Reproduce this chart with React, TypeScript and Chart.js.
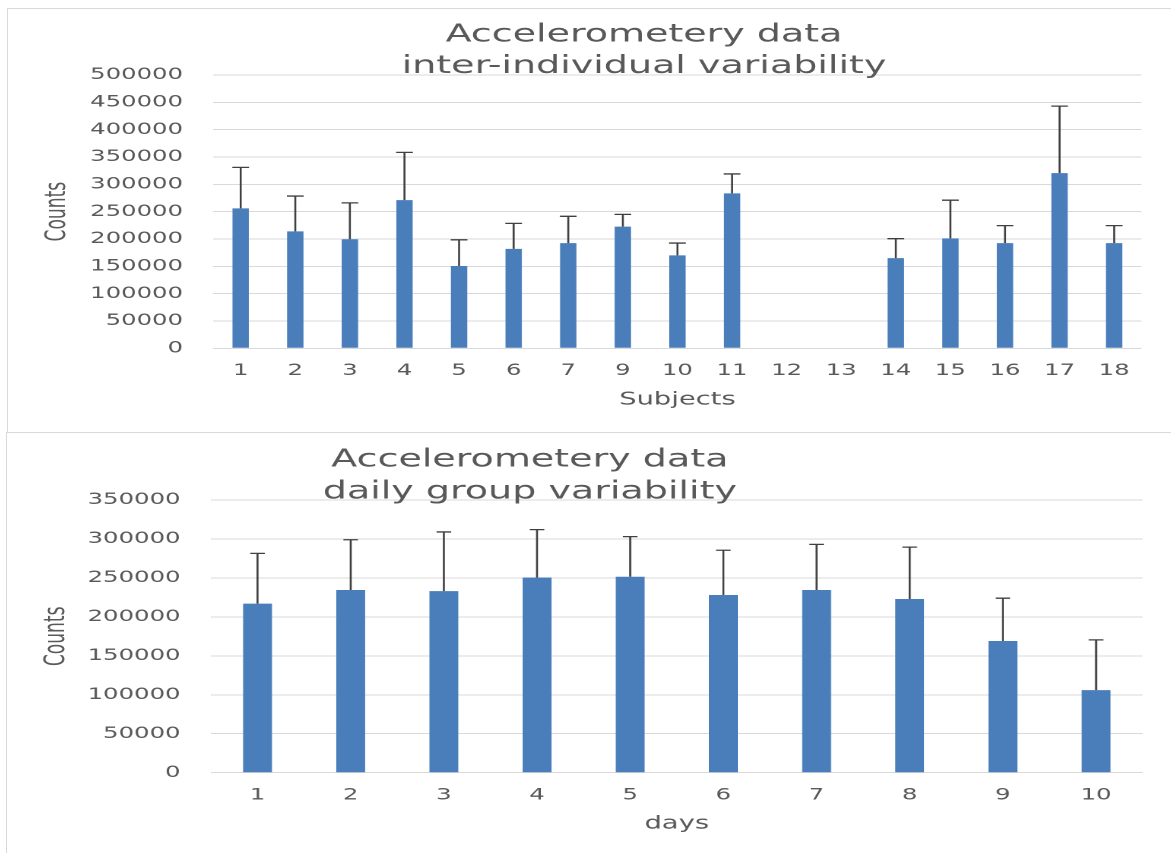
import { useEffect, useRef } from "react";
import { Chart, registerables } from "chart.js";
import type { Plugin } from "chart.js";

Chart.register(...registerables);
Chart.defaults.font.family = '"DejaVu Sans", Verdana, sans-serif';

// the source picture is stretched sideways, so each chart is drawn narrow and widened with CSS
const STRETCH = 1.52;

const subjectLabels = ["1", "2", "3", "4", "5", "6", "7", "9", "10", "11", "12", "13", "14", "15", "16", "17", "18"];
const subjectMeans = [256000, 214000, 199500, 271000, 150500, 182000, 192500, 222500, 170000, 283500, null, null, 165000, 201000, 192500, 320500, 192500];
const subjectSd = [75000, 64500, 66500, 87500, 48000, 46500, 49000, 22500, 22500, 35500, null, null, 35500, 70000, 32000, 122500, 32000];
const subjectTicks = [0, 50000, 100000, 150000, 200000, 250000, 300000, 350000, 400000, 450000, 500000];

const dayLabels = ["1", "2", "3", "4", "5", "6", "7", "8", "9", "10"];
const dayMeans = [217000, 234500, 233000, 250500, 251500, 228000, 234500, 223000, 169000, 106000];
const daySd = [64500, 64500, 76000, 61500, 51500, 57500, 58500, 66500, 55000, 64500];
const dayTicks = [0, 50000, 100000, 150000, 200000, 250000, 300000, 350000];

const textColor = "#595959";
const barColor = "#4a7ebb";

type Geom = {
  left: number; // frame position on the page
  top: number;
  frameHeight: number;
  innerW: number;
  innerH: number;
  plotLeft: number;
  plotRight: number;
  plotTop: number;
  plotBottom: number;
  xTitleMid: number;
  titleX: number;
  titleBase: number[];
  capHalf: number;
  barPct: number;
};

type PanelProps = {
  geom: Geom;
  labels: string[];
  means: (number | null)[];
  sd: (number | null)[];
  ticks: number[];
  titleLines: string[];
  xTitle: string;
};

function BarPanel({ geom: g, labels, means, sd, ticks, titleLines, xTitle }: PanelProps) {
  const canvasRef = useRef<HTMLCanvasElement | null>(null);

  const ox = g.left + 1;
  const oy = g.top + 1;
  const xAxisBottom = g.xTitleMid - oy + 10.8;
  const xAxisHeight = xAxisBottom - (g.plotBottom - oy);

  useEffect(() => {
    const canvas = canvasRef.current;
    if (!canvas) return;

    const errorBars: Plugin<"bar"> = {
      id: "errorBars",
      afterDatasetsDraw(chart) {
        const meta = chart.getDatasetMeta(0);
        const yScale = chart.scales.y;
        const ctx = chart.ctx;
        ctx.save();
        ctx.strokeStyle = "#404040";
        ctx.lineWidth = 1.3;
        sd.forEach((dev, i) => {
          const mean = means[i];
          if (mean == null || dev == null) return;
          const x = meta.data[i].x;
          const y0 = yScale.getPixelForValue(mean);
          const y1 = yScale.getPixelForValue(mean + dev);
          ctx.beginPath();
          ctx.moveTo(x, y0);
          ctx.lineTo(x, y1);
          ctx.moveTo(x - g.capHalf, y1);
          ctx.lineTo(x + g.capHalf, y1);
          ctx.stroke();
        });
        ctx.restore();
      }
    };

    const stackedTitle: Plugin<"bar"> = {
      id: "stackedTitle",
      afterDraw(chart) {
        const ctx = chart.ctx;
        ctx.save();
        ctx.font = '25px "DejaVu Sans", Verdana, sans-serif';
        ctx.fillStyle = textColor;
        ctx.textAlign = "center";
        ctx.textBaseline = "alphabetic";
        titleLines.forEach((line, i) => {
          ctx.fillText(line, (g.titleX - ox) / STRETCH, g.titleBase[i] - oy);
        });
        ctx.restore();
      }
    };

    const chart = new Chart(canvas, {
      type: "bar",
      data: {
        labels,
        datasets: [
          {
            data: means,
            backgroundColor: barColor,
            borderWidth: 0,
            barPercentage: g.barPct,
            categoryPercentage: 1
          }
        ]
      },
      plugins: [errorBars, stackedTitle],
      options: {
        responsive: true,
        maintainAspectRatio: false,
        animation: false,
        devicePixelRatio: 2,
        layout: {
          padding: {
            top: g.plotTop - oy,
            right: (ox + g.innerW - g.plotRight) / STRETCH,
            bottom: g.innerH - xAxisBottom,
            left: 0
          }
        },
        plugins: {
          legend: { display: false },
          tooltip: { enabled: false }
        },
        scales: {
          x: {
            grid: { display: false, drawTicks: false },
            border: { display: false },
            ticks: {
              color: textColor,
              font: { size: 16 },
              padding: 13,
              maxRotation: 0,
              autoSkip: false
            },
            title: {
              display: true,
              text: xTitle,
              color: textColor,
              font: { size: 18 },
              padding: 0
            },
            afterFit: (scale) => {
              scale.height = xAxisHeight;
            }
          },
          y: {
            min: 0,
            max: ticks[ticks.length - 1],
            afterBuildTicks: (scale) => {
              scale.ticks = ticks.map((value) => ({ value }));
            },
            grid: { color: "#d9d9d9", lineWidth: 1, drawTicks: false },
            border: { display: false },
            ticks: {
              color: textColor,
              font: { size: 16 },
              padding: 20,
              callback: (value) => String(value)
            },
            title: {
              display: true,
              text: "Counts",
              color: textColor,
              font: { family: '"Liberation Sans Narrow", "DejaVu Sans Condensed", sans-serif', size: 19 },
              padding: { top: 21, bottom: 0 }
            },
            afterFit: (scale) => {
              scale.width = (g.plotLeft - ox) / STRETCH;
            }
          }
        }
      }
    });

    return () => chart.destroy();
  }, [g, labels, means, sd, ticks, titleLines, xTitle, ox, oy, xAxisBottom, xAxisHeight]);

  return (
    <div
      style={{
        position: "absolute",
        left: g.left,
        top: g.top,
        width: 1180,
        height: g.frameHeight,
        border: "1px solid #d9d9d9",
        boxSizing: "border-box",
        background: "#fff"
      }}
    >
      <div
        style={{
          position: "relative",
          width: g.innerW / STRETCH,
          height: g.innerH,
          transform: `scaleX(${STRETCH})`,
          transformOrigin: "0 0"
        }}
      >
        <canvas ref={canvasRef} />
      </div>
    </div>
  );
}

const topGeom: Geom = {
  left: 7,
  top: 8,
  frameHeight: 425,
  innerW: 1163,
  innerH: 423,
  plotLeft: 213.4,
  plotRight: 1141.5,
  plotTop: 75,
  plotBottom: 348.3,
  xTitleMid: 400,
  titleX: 644,
  titleBase: [41.3, 73],
  capHalf: 5.5,
  barPct: 0.3
};

const bottomGeom: Geom = {
  left: 6,
  top: 432,
  frameHeight: 440,
  innerW: 1164,
  innerH: 420,
  plotLeft: 210.8,
  plotRight: 1141.9,
  plotTop: 500,
  plotBottom: 772.7,
  xTitleMid: 824,
  titleX: 529.5,
  titleBase: [466.7, 498.3],
  capHalf: 4.8,
  barPct: 0.31
};

const subjectTitle = ["Accelerometery data", "inter-individual variability"];
const dayTitle = ["Accelerometery data", "daily group variability"];

export default function App() {
  return (
    <div
      style={{
        position: "absolute",
        left: 0,
        top: 0,
        width: 1171,
        height: 853,
        overflow: "hidden",
        background: "#fff"
      }}
    >
      <BarPanel
        geom={topGeom}
        labels={subjectLabels}
        means={subjectMeans}
        sd={subjectSd}
        ticks={subjectTicks}
        titleLines={subjectTitle}
        xTitle="Subjects"
      />
      <BarPanel
        geom={bottomGeom}
        labels={dayLabels}
        means={dayMeans}
        sd={daySd}
        ticks={dayTicks}
        titleLines={dayTitle}
        xTitle="days"
      />
    </div>
  );
}
